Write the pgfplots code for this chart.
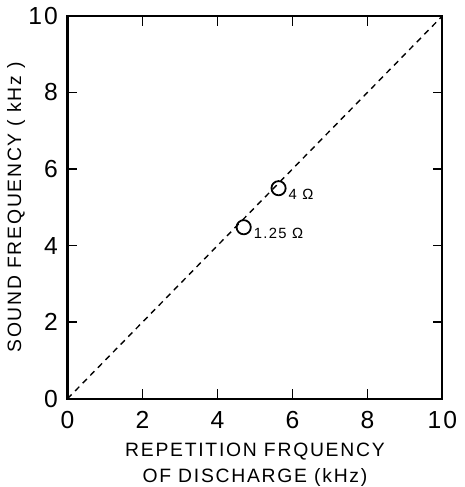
\documentclass[border=0pt]{standalone}
\usepackage{fontspec}
\setmainfont{Liberation Sans}[LetterSpace=9]
\usepackage{pgfplots}
\pgfplotsset{compat=1.18}

\begin{document}
\fontsize{11}{13}\selectfont
\begin{tikzpicture}
\begin{axis}[
    scale only axis,
    width=190pt,
    height=194pt,
    xmin=0, xmax=10,
    ymin=0, ymax=10,
    xtick={0,2,...,10},
    ytick={0,2,...,10},
    tick align=inside,
    major tick length=5pt,
    axis line style={line width=1.1pt},
    every tick/.style={black, line width=0.8pt},
    /pgf/number format/assume math mode=true,
    ticklabel style={font=\fontsize{12.5}{14}\selectfont},
    xticklabel style={yshift=-2.5pt},
    yticklabel style={xshift=-1pt},
    xlabel={REPETITION FRQUENCY\\OF DISCHARGE (kHz)},
    xlabel style={align=center, font=\fontsize{9.8}{12.8}\selectfont, yshift=-3pt, inner ysep=0.5pt},
    ylabel={SOUND FREQUENCY ( kHz )},
    ylabel style={font=\fontsize{9.8}{12}\selectfont, yshift=-6pt},
    clip=false,
]
% ideal line
\addplot[black, dashed, line width=0.7pt, dash pattern=on 3pt off 2.5pt] coordinates {(0,0) (10,10)};
% measured
\addplot[
    only marks, mark=o, mark size=3.6pt, mark options={line width=0.9pt, fill=white},
    nodes near coords, point meta=explicit symbolic,
    every node near coord/.style={anchor=west, xshift=1pt, yshift=-3pt, font=\fontsize{7.5}{9}\selectfont},
] table[meta=lab] {
x y lab
4.70 4.48 {1.25 Ω}
5.63 5.50 {4 Ω}
};
\end{axis}
\end{tikzpicture}
\end{document}
